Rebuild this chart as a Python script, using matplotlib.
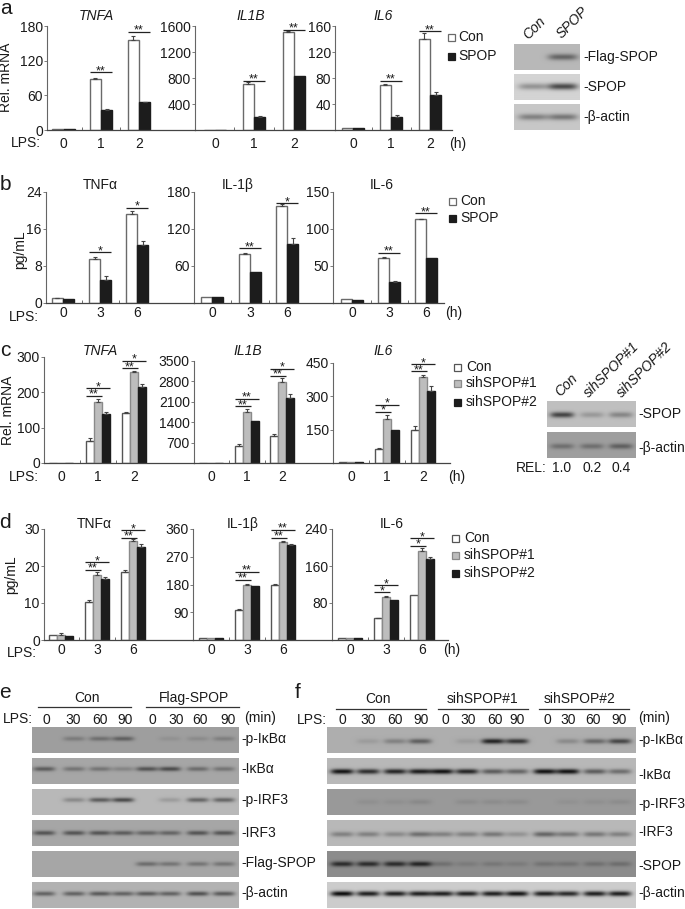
import numpy as np
import matplotlib
matplotlib.use('agg')
import matplotlib.pyplot as plt
from matplotlib.patches import Rectangle

plt.rcParams['font.family'] = ['Liberation Sans', 'DejaVu Sans']

W, H = 685, 909

# ---- values ----
hours_a = ['0', '1', '2']
hours_b = ['0', '3', '6']

a_tnfa_con = [2, 89, 155]
a_tnfa_spop = [1, 35, 48]
a_tnfa_err = [[0, 1.5, 8], [0, 1.5, 1]]
a_il1b_con = [6, 710, 1515]
a_il1b_spop = [6, 205, 835]
a_il1b_err = [[0, 30, 15], [0, 10, 0]]
a_il6_con = [3, 70, 140]
a_il6_spop = [3, 20, 54]
a_il6_err = [[0, 1.5, 10], [0, 3, 5]]

b_tnf_con = [1, 9.6, 19.3]
b_tnf_spop = [0.9, 5, 12.5]
b_tnf_err = [[0.1, 0.4, 0.5], [0, 0.9, 1]]
b_il1b_con = [10, 79, 157]
b_il1b_spop = [10, 50, 96]
b_il1b_err = [[0, 1.5, 3], [0, 0, 9]]
b_il6_con = [6, 61, 113]
b_il6_spop = [4, 29, 61]
b_il6_err = [[0, 1, 1], [0, 1, 0]]

c_tnfa_con = [1, 63, 142]
c_tnfa_si1 = [1, 172, 258]
c_tnfa_si2 = [1, 138, 215]
c_tnfa_err = [[0, 8, 3], [0, 10, 2], [0, 7, 10]]
c_il1b_con = [10, 590, 930]
c_il1b_si1 = [10, 1740, 2790]
c_il1b_si2 = [10, 1430, 2230]
c_il1b_err = [[0, 50, 70], [0, 100, 130], [0, 0, 130]]
c_il6_con = [3, 62, 150]
c_il6_si1 = [3, 197, 385]
c_il6_si2 = [6, 150, 322]
c_il6_err = [[0, 5, 15], [0, 20, 10], [0, 0, 25]]

d_tnf_con = [1.3, 10.4, 18.5]
d_tnf_si1 = [1.3, 17.7, 26.7]
d_tnf_si2 = [1.2, 16.6, 25.2]
d_tnf_err = [[0, 0.3, 0.3], [0.7, 0.8, 0.5], [0, 0.3, 0.7]]
d_il1b_con = [8, 98, 180]
d_il1b_si1 = [8, 178, 318]
d_il1b_si2 = [8, 175, 308]
d_il1b_err = [[0, 1, 1], [0, 3, 4], [0, 0, 4]]
d_il6_con = [4, 47, 98]
d_il6_si1 = [4, 92, 193]
d_il6_si2 = [4, 86, 175]
d_il6_err = [[0, 1, 0], [0, 4, 5], [0, 0, 4]]

# significance bars: group, height, label, how many bars it covers
a_tnfa_sig = [(1, 100, '**', 2), (2, 170, '**', 2)]
a_il1b_sig = [(1, 760, '**', 2), (2, 1545, '**', 2)]
a_il6_sig = [(1, 76, '**', 2), (2, 152, '**', 2)]
b_tnf_sig = [(1, 11, '*', 2), (2, 20.6, '*', 2)]
b_il1b_sig = [(1, 88.6, '**', 2), (2, 162, '*', 2)]
b_il6_sig = [(1, 68, '**', 2), (2, 121, '**', 2)]
c_tnfa_sig = [(1, 190, '**', 2), (1, 212, '*', 3), (2, 268, '**', 2), (2, 289, '*', 3)]
c_il1b_sig = [(1, 1945, '**', 2), (1, 2195, '**', 3), (2, 3000, '**', 2), (2, 3225, '*', 3)]
c_il6_sig = [(1, 231, '*', 2), (1, 261, '*', 3), (2, 412, '**', 2), (2, 445, '*', 3)]
d_tnf_sig = [(1, 19, '**', 2), (1, 21, '*', 3), (2, 27.6, '**', 2), (2, 29.6, '*', 3)]
d_il1b_sig = [(1, 195, '**', 2), (1, 221, '**', 3), (2, 332, '**', 2), (2, 357, '**', 3)]
d_il6_sig = [(1, 103, '*', 2), (1, 118, '*', 3), (2, 204, '*', 2), (2, 220, '*', 3)]

# blot band darkness, one list per row
blot_a_flag = [0.0, 0.45]
blot_a_spop = [0.3, 0.65]
blot_a_actin = [0.35, 0.4]
blot_c_spop = [0.65, 0.2, 0.3]
blot_c_actin = [0.3, 0.3, 0.4]

blot_e_pikb = [0, 0.22, 0.3, 0.4, 0, 0.08, 0.12, 0.2]
blot_e_ikb = [0.45, 0.3, 0.3, 0.2, 0.5, 0.55, 0.35, 0.3]
blot_e_pirf = [0, 0.25, 0.5, 0.6, 0, 0.15, 0.45, 0.45]
blot_e_irf = [0.5, 0.5, 0.5, 0.45, 0.4, 0.4, 0.5, 0.5]
blot_e_flag = [0, 0, 0, 0, 0.35, 0.3, 0.3, 0.3]
blot_e_actin = [0.45, 0.45, 0.5, 0.45, 0.5, 0.45, 0.55, 0.5]

blot_f_pikb = [0, 0.1, 0.25, 0.45, 0, 0.1, 0.8, 0.7, 0, 0.2, 0.4, 0.6]
blot_f_ikb = [0.9, 0.75, 0.8, 0.85, 0.9, 0.8, 0.5, 0.45, 0.9, 0.9, 0.5, 0.4]
blot_f_pirf = [0, 0.06, 0.06, 0.1, 0, 0.08, 0.08, 0.08, 0, 0.05, 0.06, 0.08]
blot_f_irf = [0.3, 0.3, 0.25, 0.4, 0.3, 0.3, 0.35, 0.2, 0.45, 0.35, 0.35, 0.3]
blot_f_spop = [0.7, 0.7, 0.7, 0.75, 0.2, 0.12, 0.15, 0.12, 0.18, 0.18, 0.2, 0.22]
blot_f_actin = [0.95, 0.85, 0.85, 0.85, 0.85, 0.85, 0.85, 0.9, 0.85, 0.8, 0.85, 0.85]

minutes = ['0', '30', '60', '90']
rel_values = ['1.0', '0.2', '0.4']

# ---- layout ----
fig = plt.figure(figsize=(W / 100, H / 100), dpi=100)
ov = fig.add_axes([0, 0, 1, 1], zorder=5)
ov.set_xlim(0, W)
ov.set_ylim(H, 0)
ov.axis('off')
ov.patch.set_alpha(0)

FILLS = {2: ['white', '#1c1c1c'], 3: ['white', '#bdbdbd', '#1c1c1c']}
EDGES = {2: ['#6a6a6a', '#1c1c1c'], 3: ['#555555', '#8a8a8a', '#1c1c1c']}


def txt(x, y, s, size=10, **kw):
    kw.setdefault('ha', 'center')
    kw.setdefault('va', 'center')
    ov.text(x, y, s, fontsize=size, color='#1a1a1a', **kw)


def bar_panel(x0, x1, top, base, centers, bw, labels, ymax, yticks, series, errs, sigs, pad=5):
    ax = fig.add_axes([x0 / W, 1 - base / H, (x1 - x0) / W, (base - top) / H])
    ax.set_xlim(x0, x1)
    ax.set_ylim(0, ymax)
    n = len(series)
    for i, vals in enumerate(series):
        pos = np.array(centers) + (i - (n - 1) / 2) * bw
        ax.bar(pos, vals, bw, color=FILLS[n][i], edgecolor=EDGES[n][i], linewidth=1.0)
        err = np.array(errs[i], dtype=float)
        keep = err > 0
        if keep.any():
            ax.errorbar(pos[keep], np.array(vals)[keep], yerr=[np.zeros(keep.sum()), err[keep]],
                        fmt='none', ecolor='#444444', elinewidth=0.8, capsize=1.6, capthick=0.8)
    for g, y, lab, cover in sigs:
        left = centers[g] - n * bw / 2
        ax.plot([left, left + cover * bw], [y, y], color='#222222', lw=0.9, clip_on=False,
                solid_capstyle='butt')
        ax.annotate(lab, (left + cover * bw / 2, y), xytext=(0, -3.5), textcoords='offset points',
                    ha='center', va='bottom', fontsize=9, color='#1a1a1a', annotation_clip=False)
    for side in ['top', 'right']:
        ax.spines[side].set_visible(False)
    ax.spines['left'].set_color('#666666')
    ax.spines['bottom'].set_color('#444444')
    ax.spines['left'].set_linewidth(0.8)
    ax.spines['bottom'].set_linewidth(0.9)
    ax.patch.set_alpha(0)
    ax.set_yticks(yticks)
    ax.tick_params(axis='y', length=2, width=0.6, color='#666666', labelsize=10, pad=1,
                   labelcolor='#1a1a1a')
    ax.set_xticks(centers)
    ax.set_xticklabels(labels)
    ax.tick_params(axis='x', length=0, labelsize=10, pad=pad, labelcolor='#1a1a1a')
    ax.set_xticks([(centers[0] + centers[1]) / 2, (centers[1] + centers[2]) / 2], minor=True)
    ax.tick_params(axis='x', which='minor', direction='in', length=2, width=0.6, color='#555555')
    return ax


def blot(x0, x1, y0, y1, bands, lanes, bg, yfrac=0.5, thick=2.6, band_w=None):
    # bands painted onto a grey strip, lanes in page px
    nx, ny = int(x1 - x0) * 2, int(y1 - y0) * 2
    xs = np.linspace(x0, x1, nx)
    ys = np.linspace(y0, y1, ny)
    X, Y = np.meshgrid(xs, ys)
    img = np.full(X.shape, float(bg))
    if band_w is None:
        band_w = (x1 - x0) / len(lanes) * 0.4
    yc = y0 + (y1 - y0) * yfrac
    for lane, dark in zip(lanes, bands):
        img -= dark * np.exp(-((X - lane) / band_w) ** 4) * np.exp(-((Y - yc) / thick) ** 2) * bg
    ax = fig.add_axes([x0 / W, 1 - y1 / H, (x1 - x0) / W, (y1 - y0) / H])
    ax.imshow(img, cmap='gray', vmin=0, vmax=1, aspect='auto', interpolation='bilinear')
    ax.axis('off')


def legend(x, ys, tx, names, n):
    for i, (y, name) in enumerate(zip(ys, names)):
        ov.add_patch(Rectangle((x - 3.5, y - 3.5), 7, 7, facecolor=FILLS[n][i], edgecolor=EDGES[n][i], lw=0.9))
        txt(tx, y, name, ha='left')


# ---- a ----
bar_panel(47, 195, 26, 130, [63.5, 101, 139], 11.3, hours_a, 180, [0, 60, 120, 180],
          [a_tnfa_con, a_tnfa_spop], a_tnfa_err, a_tnfa_sig)
bar_panel(195, 335, 26, 130, [215, 254, 294], 11.3, hours_a, 1600, [400, 800, 1200, 1600],
          [a_il1b_con, a_il1b_spop], a_il1b_err, a_il1b_sig)
bar_panel(335, 452, 26, 130, [353, 391, 430], 11.3, hours_a, 160, [40, 80, 120, 160],
          [a_il6_con, a_il6_spop], a_il6_err, a_il6_sig)
txt(6, 9, 'a', 15)
txt(96, 16, 'TNFA', style='italic')
txt(251, 16, 'IL1B', style='italic')
txt(383, 16, 'IL6', style='italic')
txt(6, 77, 'Rel. mRNA', rotation=90)
txt(26, 143, 'LPS:')
txt(458, 144, '(h)')
legend(452, [37, 56], 458, ['Con', 'SPOP'], 2)

two = [533, 563]
blot(514, 580, 44, 70, blot_a_flag, two, 0.72, thick=3.2, band_w=15)
blot(514, 580, 74, 100, blot_a_spop, two, 0.83, thick=3.2, band_w=15)
blot(514, 580, 104, 130, blot_a_actin, two, 0.78, thick=3.2, band_w=15)
txt(534, 28, 'Con', style='italic', rotation=45)
txt(572, 23, 'SPOP', style='italic', rotation=45)
txt(583, 57, '-Flag-SPOP', ha='left')
txt(583, 87, '-SPOP', ha='left')
txt(583, 117, '-\u03b2-actin', ha='left')

# ---- b ----
bar_panel(46, 194, 192, 303, [63, 100, 137], 11, hours_b, 24, [0, 8, 16, 24],
          [b_tnf_con, b_tnf_spop], b_tnf_err, b_tnf_sig, pad=2)
bar_panel(194, 333, 192, 303, [212, 250, 287], 11, hours_b, 180, [60, 120, 180],
          [b_il1b_con, b_il1b_spop], b_il1b_err, b_il1b_sig, pad=2)
bar_panel(333, 444, 192, 303, [352, 389, 426], 11, hours_b, 150, [50, 100, 150],
          [b_il6_con, b_il6_spop], b_il6_err, b_il6_sig, pad=2)
txt(5, 184, 'b', 15)
txt(100, 185, 'TNF\u03b1')
txt(238, 185, 'IL-1\u03b2')
txt(382, 185, 'IL-6')
txt(20, 250, 'pg/mL', rotation=90)
txt(24, 317, 'LPS:')
txt(454, 313, '(h)')
legend(453, [201, 218], 460, ['Con', 'SPOP'], 2)

# ---- c ----
bar_panel(44, 194, 357, 463, [61, 98, 134], 8, hours_a, 300, [0, 100, 200, 300],
          [c_tnfa_con, c_tnfa_si1, c_tnfa_si2], c_tnfa_err, c_tnfa_sig)
bar_panel(194, 333, 361, 463, [211, 247, 282], 8, hours_a, 3500, [700, 1400, 2100, 2800, 3500],
          [c_il1b_con, c_il1b_si1, c_il1b_si2], c_il1b_err, c_il1b_sig)
bar_panel(333, 450, 363, 463, [351, 387, 423], 8, hours_a, 450, [150, 300, 450],
          [c_il6_con, c_il6_si1, c_il6_si2], c_il6_err, c_il6_sig)
txt(5, 350, 'c', 15)
txt(100, 351, 'TNFA', style='italic')
txt(248, 351, 'IL1B', style='italic')
txt(383, 351, 'IL6', style='italic')
txt(8, 410, 'Rel. mRNA', rotation=90)
txt(24, 477, 'LPS:')
txt(457, 477, '(h)')
legend(458, [367, 383, 402], 466, ['Con', 'sihSPOP#1', 'sihSPOP#2'], 3)

three = [562, 592, 621]
blot(547, 636, 401, 427, blot_c_spop, three, 0.75, yfrac=0.55, thick=2.8, band_w=12)
blot(547, 636, 432, 458, blot_c_actin, three, 0.62, yfrac=0.55, thick=2.8, band_w=12)
txt(566, 385, 'Con', style='italic', rotation=45)
txt(612, 370, 'sihSPOP#1', style='italic', rotation=45)
txt(645, 370, 'sihSPOP#2', style='italic', rotation=45)
txt(638, 414, '-SPOP', ha='left')
txt(638, 448, '-\u03b2-actin', ha='left')
txt(531, 468, 'REL:')
for rx, rv in zip([562, 592, 621], rel_values):
    txt(rx, 468, rv)

# ---- d ----
bar_panel(44, 193, 529, 640, [61, 97, 133], 8, hours_b, 30, [0, 10, 20, 30],
          [d_tnf_con, d_tnf_si1, d_tnf_si2], d_tnf_err, d_tnf_sig, pad=2)
bar_panel(193, 332, 529, 640, [211, 247, 283], 8, hours_b, 360, [90, 180, 270, 360],
          [d_il1b_con, d_il1b_si1, d_il1b_si2], d_il1b_err, d_il1b_sig, pad=2)
bar_panel(332, 448, 529, 640, [350, 386, 422], 8, hours_b, 240, [80, 160, 240],
          [d_il6_con, d_il6_si1, d_il6_si2], d_il6_err, d_il6_sig, pad=2)
txt(5, 523, 'd', 15)
txt(94, 524, 'TNF\u03b1')
txt(243, 524, 'IL-1\u03b2')
txt(392, 524, 'IL-6')
txt(11, 575, 'pg/mL', rotation=90)
txt(22, 653, 'LPS:')
txt(452, 650, '(h)')
legend(456, [538, 555, 573], 464, ['Con', 'sihSPOP#1', 'sihSPOP#2'], 3)

# ---- e ----
rows_y = [(727, 753), (758, 784), (789, 815), (820, 846), (851, 877), (882, 908)]
lanes_e = [44, 74, 100, 123, 147, 170, 198, 224]
e_bands = [(blot_e_pikb, 0.62, 0.45), (blot_e_ikb, 0.65, 0.42), (blot_e_pirf, 0.72, 0.42),
           (blot_e_irf, 0.65, 0.5), (blot_e_flag, 0.65, 0.5), (blot_e_actin, 0.7, 0.45)]
for (y0, y1), (bands, bg, yf) in zip(rows_y, e_bands):
    blot(32, 239, y0, y1, bands, lanes_e, bg, yfrac=yf, thick=2.3, band_w=11)
txt(5, 693, 'e', 15)
txt(87, 698, 'Con')
txt(194, 698, 'Flag-SPOP')
ov.plot([38, 131], [707, 707], color='#333333', lw=0.9)
ov.plot([146, 239], [707, 707], color='#333333', lw=0.9)
txt(18, 719, 'LPS:')
for mx, m in zip([46, 73, 100, 125, 152, 176, 200, 228], minutes * 2):
    txt(mx, 719.5, m)
txt(260, 718, '(min)')
for ly, name in zip([739, 769, 800, 833, 863, 893],
                    ['-p-I\u03baB\u03b1', '-I\u03baB\u03b1', '-p-IRF3', '-IRF3', '-Flag-SPOP', '-\u03b2-actin']):
    txt(241, ly, name, ha='left')

# ---- f ----
lanes_f = [342, 368, 395, 420, 442, 467, 493, 517, 545, 568, 595, 620]
f_bands = [(blot_f_pikb, 0.68, 0.55), (blot_f_ikb, 0.72, 0.52), (blot_f_pirf, 0.6, 0.5),
           (blot_f_irf, 0.72, 0.55), (blot_f_spop, 0.55, 0.5), (blot_f_actin, 0.8, 0.45)]
for (y0, y1), (bands, bg, yf) in zip(rows_y, f_bands):
    blot(327, 636, y0, y1, bands, lanes_f, bg, yfrac=yf, thick=2.6, band_w=11.5)
txt(298, 692, 'f', 15)
txt(378, 699, 'Con')
txt(482, 699, 'sihSPOP#1')
txt(580, 699, 'sihSPOP#2')
for lx0, lx1 in [(336, 426), (438, 528), (539, 629)]:
    ov.plot([lx0, lx1], [709, 709], color='#333333', lw=0.9)
txt(297, 720, 'LPS:', ha='left')
for mx, m in zip([342, 368, 395, 421, 445, 468, 495, 517, 547, 568, 593, 619], minutes * 3):
    txt(mx, 720, m)
txt(654, 718, '(min)')
for ly, name in zip([740, 775, 804, 832, 866, 893],
                    ['-p-I\u03baB\u03b1', '-I\u03baB\u03b1', '-p-IRF3', '-IRF3', '-SPOP', '-\u03b2-actin']):
    txt(638, ly, name, ha='left')

ov.set_xlim(0, W)
ov.set_ylim(H, 0)
fig.savefig('out.png', dpi=100)
